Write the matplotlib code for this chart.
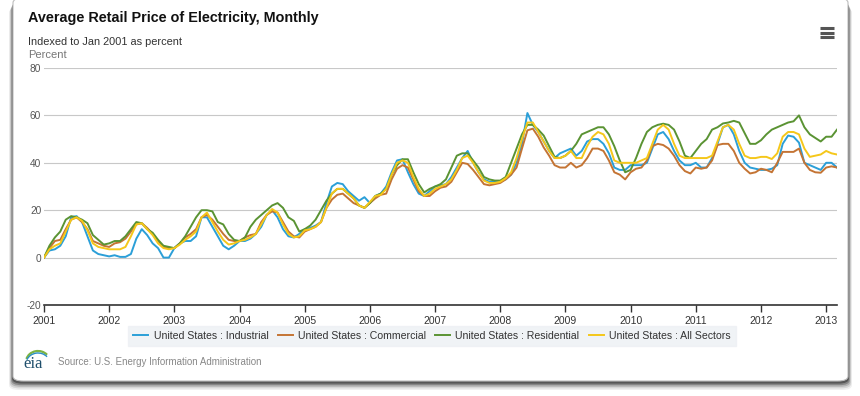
import numpy as np
import matplotlib
matplotlib.use("Agg")
import matplotlib.pyplot as plt
from matplotlib.patches import FancyBboxPatch, Arc
from matplotlib.lines import Line2D

plt.rcParams['font.family'] = ['Liberation Sans', 'DejaVu Sans']

# ---------------- data (monthly, Jan 2001 .. Mar 2013, index vs Jan 2001, %) ----------------
years = ["2001", "2002", "2003", "2004", "2005", "2006", "2007",
         "2008", "2009", "2010", "2011", "2012", "2013"]

industrial = [
    0, 3, 3.5, 5, 9, 17, 17.5, 15, 9, 3, 1.5, 1,
    0.5, 1, 0.3, 0.3, 1.5, 8, 12, 9.5, 6, 4, 0, 0,
    4, 6, 7, 7, 9, 17, 17, 13, 9, 5, 3.5, 5,
    7, 7, 8, 10, 13, 18, 20, 17, 12, 9, 8.5, 10,
    12, 12.5, 13.5, 15, 23, 30, 31.5, 31, 28, 26, 24, 25.5,
    23, 26, 27, 30, 36, 41, 41.5, 36, 31, 27, 26, 28,
    30, 30.5, 31, 34, 38, 42, 45, 40, 36, 33, 32, 32,
    32, 33, 35, 40, 48, 61, 56, 53, 49, 45, 42, 44,
    45, 46, 43, 45, 49, 50, 50, 48, 44, 38, 37, 37,
    39, 39, 39, 40, 46, 52, 53, 50, 45, 41, 39, 39,
    40, 38, 38, 42, 48, 55, 56, 52, 45, 40, 38, 37.5,
    37, 37, 37.5, 39, 48, 51.5, 51, 48.5, 40, 39, 38, 37,
    40, 40, 38,
]

commercial = [
    0, 4, 7, 7.5, 12, 16, 17, 15, 12, 7, 6, 5,
    4.5, 6, 6.5, 8, 11, 14, 14.5, 12.5, 10, 7, 4.5, 4,
    4, 6, 8.5, 10, 12, 17, 18, 16, 13, 10, 7.5, 7,
    7, 8.5, 9.5, 10, 15, 18, 19.5, 19, 15, 11, 9, 8.5,
    11, 12, 13, 15, 21, 24.5, 26.5, 27, 25, 23, 22, 21,
    23, 25, 26.5, 27, 33, 37.5, 39, 38, 33, 28, 26, 26,
    28, 29.5, 30, 32, 36, 40, 39.5, 37, 34, 31, 30.5, 31,
    31.5, 33, 35, 38, 46, 53.7, 54.4, 51, 46.5, 43, 39, 38,
    38, 40, 38, 39, 42, 46, 46, 45, 41, 36, 35, 33,
    36, 37.5, 38, 41, 47, 48, 47.5, 46, 43, 39, 36.5, 35.5,
    38, 37.5, 38, 41, 47.5, 48, 48, 45, 40, 37.5, 35.5, 36,
    37.5, 37, 36, 40, 44.6, 44.6, 44.6, 46, 40, 37, 36, 35.8,
    38, 38.5, 38,
]

residential = [
    0, 5, 8.5, 11, 16, 17.5, 17, 16, 14.5, 9.5, 7.5, 5.5,
    6, 7, 7, 9, 12, 15, 14.5, 12, 10.5, 7.5, 5, 4.5,
    4, 6, 9, 13, 17, 20, 20, 19.5, 15, 14, 10, 7.5,
    7, 8.5, 13, 16, 18, 20, 22, 23, 21, 17, 15.5, 11,
    12, 13.5, 16, 20, 24, 27, 29, 29, 27, 25, 22, 21,
    23, 26, 27, 29, 35, 39, 41.5, 41.5, 36, 31, 27.5, 29,
    30, 31, 33, 38, 43, 44, 44, 41, 38, 34, 33, 32.5,
    32.5, 34, 40, 46, 52, 56, 56, 54, 51.5, 47, 42.5, 42,
    43, 45, 48, 52, 53, 54, 55, 55, 52, 47, 41, 36,
    37, 42, 48, 53, 55, 56, 56.5, 56, 54, 49, 43, 42,
    45, 48, 50, 54, 55, 56.6, 57, 57.7, 57, 52.5, 48, 48,
    49.5, 52, 54, 55, 56, 57, 57.5, 60, 55, 52, 50.5, 49,
    51, 51, 54,
]

all_sectors = [
    0, 3.5, 5, 6, 11, 16, 17, 15.5, 11.5, 6, 4.5, 4,
    3.5, 3.5, 3.5, 4.5, 9, 14, 14.5, 12, 9.5, 6, 4, 3.5,
    4, 5.5, 7.5, 9, 11, 17, 19, 15, 11, 7.5, 5.5, 6,
    7, 7.5, 8.5, 10, 14, 18, 20.5, 19, 14, 10, 8.5, 9,
    11.5, 12, 13, 15, 21, 27, 29, 29, 27, 25, 22, 21,
    23.5, 26, 26.5, 29, 35, 40, 41, 40, 34, 29, 26, 27,
    29, 30, 31, 33, 37, 42, 43, 40, 36, 32.5, 31.5, 31.5,
    32, 33.5, 36, 42, 50, 57, 57, 53, 49, 45, 42, 42,
    43, 45, 42, 42, 47, 51, 53, 52, 48, 41, 40, 40,
    40, 40, 41, 42, 48, 54, 56, 54, 48, 43, 42, 42,
    42, 42, 42, 43, 49, 55, 56, 54, 48, 43, 42, 42,
    42.5, 42.5, 41.6, 44, 51, 53, 53, 52, 46, 42.5, 43, 43.5,
    45, 44, 43.5,
]

series_names = ["United States : Industrial", "United States : Commercial",
                "United States : Residential", "United States : All Sectors"]
series_colors = ["#2b9fd8", "#c47434", "#5a9333", "#f5c71a"]
y_ticks = [-20, 0, 20, 40, 60, 80]

# ---------------- figure ----------------
W, H = 860, 396
fig = plt.figure(figsize=(W / 100, H / 100), dpi=100)
fig.patch.set_facecolor("white")

def fx(px):
    return px / W

def fy(py):
    return 1 - py / H

# card shadow (several soft layers)
for i, a in enumerate([0.06, 0.10, 0.16, 0.25, 0.35]):
    off = 8 - i * 1.6
    fig.patches.append(FancyBboxPatch(
        (fx(13 - off * 0.5), fy(382 + off)), fx(835 + off * 1.0), fy(0) - fy(382),
        boxstyle="round,pad=0,rounding_size=0.012", transform=fig.transFigure,
        facecolor="black", edgecolor="none", alpha=a, zorder=0))
# card
fig.patches.append(FancyBboxPatch(
    (fx(13), fy(381)), fx(835), fy(0) - fy(383),
    boxstyle="round,pad=0,rounding_size=0.012", transform=fig.transFigure,
    facecolor="white", edgecolor="#bdbdbd", linewidth=0.8, zorder=1))

# titles
fig.text(fx(28), fy(18), "Average Retail Price of Electricity, Monthly",
         fontsize=10.4, fontweight="bold", color="#111111", va="center", ha="left", zorder=5)
fig.text(fx(28), fy(42), "Indexed to Jan 2001 as percent",
         fontsize=7.9, color="#333333", va="center", ha="left", zorder=5)
fig.text(fx(28), fy(55), "Percent",
         fontsize=8, color="#777777", va="center", ha="left", zorder=5)

# hamburger menu icon
for yy in (28, 32.5, 37):
    fig.add_artist(Line2D([fx(820), fx(834)], [fy(yy), fy(yy)], color="#555555",
                          linewidth=2.2, solid_capstyle="butt", zorder=5))

# ---------------- axes ----------------
ax = fig.add_axes([fx(44), fy(305), fx(837) - fx(44), fy(68) - fy(305)], zorder=3)
ax.set_facecolor("none")
x = np.arange(len(industrial))
for vals, name, col in zip([industrial, commercial, residential, all_sectors],
                           series_names, series_colors):
    ax.plot(x, vals, color=col, linewidth=1.4, label=name, solid_joinstyle="round")

ax.set_xlim(0, len(industrial) - 1)
ax.set_ylim(-20, 80)
ax.set_yticks(y_ticks)
ax.set_yticklabels([str(v) for v in y_ticks])
ax.yaxis.grid(True, color="#c8c8c8", linewidth=0.8)
ax.set_axisbelow(True)
ax.set_xticks(np.arange(0, len(industrial), 12))
ax.set_xticklabels(years)
for s in ("top", "right", "left"):
    ax.spines[s].set_visible(False)
ax.spines["bottom"].set_color("#333333")
ax.spines["bottom"].set_linewidth(1.2)
ax.tick_params(axis="y", length=0, pad=2, labelsize=7.3, labelcolor="#555555")
ax.tick_params(axis="x", length=5, width=1, color="#333333", pad=3,
               labelsize=7.5, labelcolor="#333333")

# legend
leg = fig.legend(loc="center", bbox_to_anchor=(fx(432), fy(336)), ncol=4,
                 fontsize=7.6, frameon=True, handlelength=1.4, handletextpad=0.5,
                 columnspacing=0.9, borderpad=0.5, fancybox=False)
leg.get_frame().set_facecolor("#edf0f4")
leg.get_frame().set_edgecolor("#edf0f4")
leg.set_zorder(6)
for t in leg.get_texts():
    t.set_color("#333333")

# footer: eia logo and source
fig.text(fx(23), fy(364), "eia", fontsize=12, family=["Liberation Serif", "DejaVu Serif"],
         color="#1f4f6c", va="center", ha="left", zorder=5)
fig.add_artist(Arc((fx(38), fy(362)), fx(24), fy(0) - fy(22), theta1=60, theta2=150,
                   transform=fig.transFigure, color="#7cb342", linewidth=1.6, zorder=5))
fig.add_artist(Arc((fx(38), fy(364)), fx(24), fy(0) - fy(22), theta1=60, theta2=140,
                   transform=fig.transFigure, color="#2b8fc7", linewidth=1.0, zorder=5))
fig.text(fx(58), fy(362), "Source: U.S. Energy Information Administration",
         fontsize=7.0, color="#888888", va="center", ha="left", zorder=5)

fig.savefig("out.png", dpi=100, facecolor="white")
